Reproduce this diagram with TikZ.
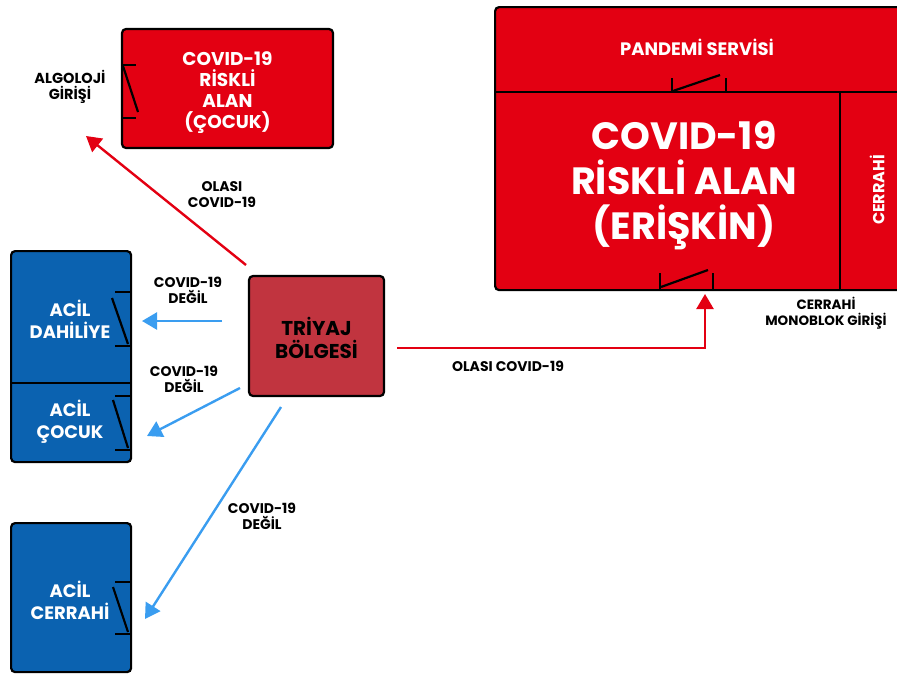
\documentclass[tikz,border=0pt]{standalone}
\usepackage{fontspec}
\setmainfont{Poppins}
\usetikzlibrary{arrows.meta, positioning, calc}

\definecolor{kirmizi}{HTML}{E30012}
\definecolor{triyajkirmizi}{HTML}{C1343F}
\definecolor{koyumavi}{HTML}{0B62B0}
\definecolor{acikmavi}{HTML}{3A9DF0}

\begin{document}
\begin{tikzpicture}[x=1pt, y=-1pt,
    alan/.style={draw=black, line width=2.2pt, rounded corners=4pt, inner sep=0pt},
    yazi/.style={text=white, font=\bfseries, align=center, inner sep=0pt},
    etiket/.style={text=black, align=center, inner sep=0pt, font=\bfseries\fontsize{14}{16}\selectfont},
    kapi/.style={draw=black, line width=2.2pt},
    okk/.style={draw=kirmizi, line width=2.4pt, -{Triangle[length=15pt, width=17pt]}},
    okm/.style={draw=acikmavi, line width=2.4pt, -{Triangle[length=15pt, width=17pt]}}]

    % sayfa sinirlari
    \useasboundingbox (0,0) rectangle (897,673);
    \clip (0,0) rectangle (897,673);

    % =========================
    % 1. KIRMIZI ALANLAR
    % =========================
    \node[alan, fill=kirmizi, minimum width=211, minimum height=119] (cocukalan) at (227.5,88.5) {};
    \node[yazi, font=\bfseries\fontsize{18.5}{21}\selectfont] at (227.5,93) {COVID-19\\RİSKLİ\\ALAN\\(ÇOCUK)};

    % eriskin blogu (saga tasiyor)
    \node[alan, fill=kirmizi, anchor=north west, minimum width=430, minimum height=283] (eriskin) at (494,6) {};
    \draw[kapi] (494,92) -- (930,92);
    \draw[kapi] (840,92) -- (840,289);
    \node[yazi, font=\bfseries\fontsize{18}{20}\selectfont] (pandemi) at (697,47) {PANDEMİ SERVİSİ};
    \node[yazi, font=\bfseries\fontsize{38}{45}\selectfont] (eriskinyazi) at (684,186) {COVID-19\\RİSKLİ ALAN\\(ERİŞKİN)};
    \node[yazi, rotate=90, font=\bfseries\fontsize{16}{18}\selectfont] (cerrahi) at (877,190) {CERRAHİ};

    % =========================
    % 2. TRIYAJ VE MAVI ALANLAR
    % =========================
    \node[alan, fill=triyajkirmizi, minimum width=135, minimum height=120] (triyaj) at (316.5,336) {};
    \node[text=black, font=\bfseries\fontsize{20}{23}\selectfont, align=center] at (316.5,338) {TRİYAJ\\BÖLGESİ};

    \node[alan, fill=koyumavi, anchor=north west, minimum width=120, minimum height=211] (acilblok) at (10,250) {};
    \draw[kapi] (10,383) -- (130,383);
    \node[yazi, font=\bfseries\fontsize{18}{22}\selectfont] (dahiliye) at (70,319) {ACİL\\DAHİLİYE};
    \node[yazi, font=\bfseries\fontsize{18}{22}\selectfont] (acilcocuk) at (70,422) {ACİL\\ÇOCUK};

    \node[alan, fill=koyumavi, anchor=north west, minimum width=120, minimum height=149] (acilcerrahi) at (10,522) {};
    \node[yazi, font=\bfseries\fontsize{18}{22}\selectfont] at (70,600) {ACİL\\CERRAHİ};

    % =========================
    % 3. KAPILAR
    % =========================
    % algoloji girisi
    \draw[kapi] (122,65) -- (136,65);
    \draw[kapi] (122,118) -- (136,118);
    \draw[kapi] (123,66) -- (138,112);
    % pandemi servisi kapisi
    \draw[kapi] (672,78) -- (672,92);
    \draw[kapi] (726,78) -- (726,92);
    \draw[kapi] (673,91) -- (720,75);
    % monoblok girisi
    \draw[kapi] (660,273) -- (660,289);
    \draw[kapi] (713,273) -- (713,289);
    \draw[kapi] (661,287) -- (708,270);
    % acil kapilari
    \draw[kapi] (115,292) -- (130,292);
    \draw[kapi] (115,346) -- (130,346);
    \draw[kapi] (112,298) -- (128,344);
    \draw[kapi] (115,396) -- (130,396);
    \draw[kapi] (115,450) -- (130,450);
    \draw[kapi] (113,400) -- (128,448);
    \draw[kapi] (115,582) -- (130,582);
    \draw[kapi] (115,634) -- (130,634);
    \draw[kapi] (113,587) -- (128,632);

    % =========================
    % 4. OKLAR VE ETIKETLER
    % =========================
    \coordinate (r1a) at (246,265);
    \coordinate (r1b) at (86,136);
    \coordinate (r2a) at (397,348);
    \coordinate (r2b) at (705,294);
    \coordinate (m1a) at (222,321);
    \coordinate (m1b) at (142,321);
    \coordinate (m2a) at (240,388);
    \coordinate (m2b) at (147,436);
    \coordinate (m3a) at (281,407);
    \coordinate (m3b) at (145,619);

    \draw[okk] (r1a) -- (r1b);
    \draw[okk] (r2a) -| (r2b);
    \draw[okm] (m1a) -- (m1b);
    \draw[okm] (m2a) -- (m2b);
    \draw[okm] (m3a) -- (m3b);

    \node[etiket, font=\bfseries\fontsize{14.5}{16}\selectfont] (algoloji) at (70,87) {ALGOLOJİ\\GİRİŞİ};
    \node[etiket] (olasi1) at (222,195) {OLASI\\COVID-19};
    \node[etiket] (olasi2) at (508,366) {OLASI COVID-19};
    \node[etiket, font=\bfseries\fontsize{13.5}{16}\selectfont] (monoblok) at (826,313) {CERRAHİ\\MONOBLOK GİRİŞİ};
    \node[etiket] (degil1) at (188,290) {COVID-19\\DEĞİL};
    \node[etiket] (degil2) at (184,379) {COVID-19\\DEĞİL};
    \node[etiket] (degil3) at (262,516) {COVID-19\\DEĞİL};

\end{tikzpicture}
\end{document}
